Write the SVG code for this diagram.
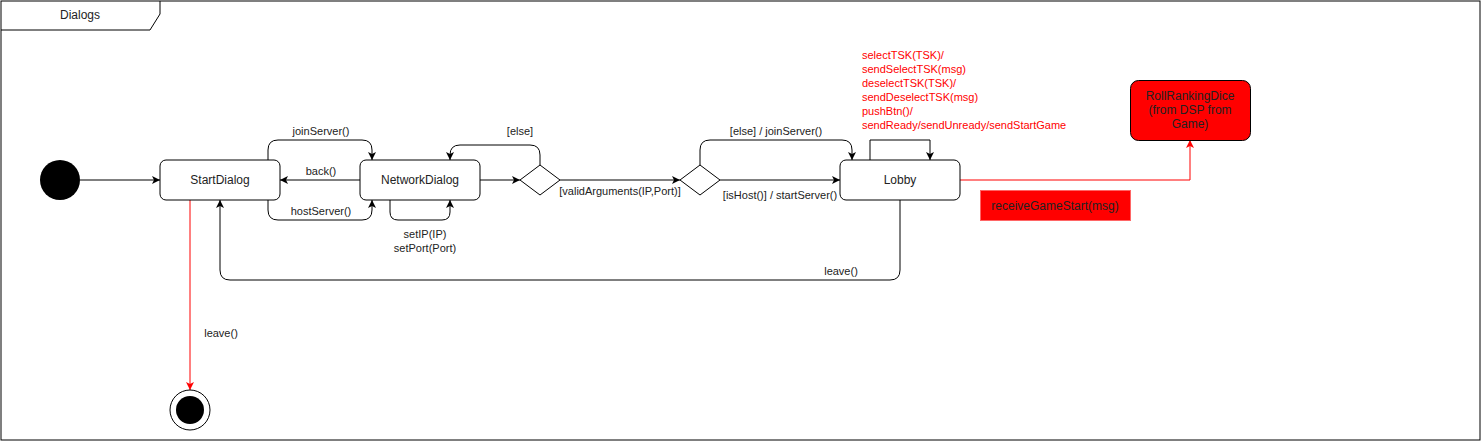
<svg xmlns="http://www.w3.org/2000/svg" width="1481" height="441" viewBox="0 0 1481 441">
<style>
text{font-family:"Liberation Sans",Arial,sans-serif;}
.lbl{font-size:11px;fill:#222;}
.red{font-size:11px;fill:#FF0000;}
.nt{font-size:12px;fill:#222;text-anchor:middle;}
.node{fill:#fff;stroke:#000;stroke-width:1;}
.e{fill:none;stroke:#000;stroke-width:1;marker-end:url(#arr);}
.er{fill:none;stroke:#FF0000;stroke-width:1;marker-end:url(#arrR);}
</style>
<defs>
<marker id="arr" markerUnits="userSpaceOnUse" markerWidth="10" markerHeight="10" refX="8" refY="4" orient="auto">
<path d="M0,0 L8,4 L0,8 L2,4 z" fill="#000"/>
</marker>
<marker id="arrR" markerUnits="userSpaceOnUse" markerWidth="10" markerHeight="10" refX="8" refY="4" orient="auto">
<path d="M0,0 L8,4 L0,8 L2,4 z" fill="#FF0000"/>
</marker>
</defs>
<rect x="0" y="0" width="1481" height="441" fill="#fff"/>
<g id="frame">
<rect x="1" y="1" width="1479" height="439" fill="none" stroke="#000"/>
<path d="M1,30 L150,30 L160,14 L160,1" fill="none" stroke="#000"/>
<text x="80" y="19" class="nt">Dialogs</text>
</g>
<g id="connectors">
<path class="e" d="M80,180 L160,180"/>
<path class="e" d="M268,160 L268,150 Q268,140 278,140 L362,140 Q372,140 372,150 L372,160"/>
<path class="e" d="M360,180 L280,180"/>
<path class="e" d="M268,200 L268,210 Q268,220 278,220 L362,220 Q372,220 372,210 L372,200"/>
<path class="e" d="M390,200 L390,212 Q390,220 398,220 L442,220 Q450,220 450,212 L450,200"/>
<path class="e" d="M480,180 L520,180"/>
<path class="e" d="M540,165 L540,155 Q540,145 530,145 L460,145 Q450,145 450,155 L450,160"/>
<path class="e" d="M560,180 L680,180"/>
<path class="e" d="M700,165 L700,150 Q700,140 710,140 L842,140 Q852,140 852,150 L852,160"/>
<path class="e" d="M720,180 L840,180"/>
<path class="e" d="M870,160 L870,140 L930,140 L930,160"/>
<path class="e" d="M900,200 L900,270 Q900,280 890,280 L230,280 Q220,280 220,270 L220,200"/>
<path class="er" d="M190,200 L190,390"/>
<path class="er" d="M960,180 L1190,180 L1190,140"/>
<text class="lbl" x="321" y="135" text-anchor="middle">joinServer()</text>
<text class="lbl" x="321" y="175" text-anchor="middle">back()</text>
<text class="lbl" x="321" y="215" text-anchor="middle">hostServer()</text>
<text class="lbl" x="425" y="238" text-anchor="middle">setIP(IP)</text>
<text class="lbl" x="425" y="252" text-anchor="middle">setPort(Port)</text>
<text class="lbl" x="520" y="135" text-anchor="middle">[else]</text>
<text class="lbl" x="620" y="195" text-anchor="middle">[validArguments(IP,Port)]</text>
<text class="lbl" x="776" y="135" text-anchor="middle">[else] / joinServer()</text>
<text class="lbl" x="780" y="199" text-anchor="middle">[isHost()] / startServer()</text>
<text class="lbl" x="841" y="275" text-anchor="middle">leave()</text>
<text class="lbl" x="221" y="337" text-anchor="middle">leave()</text>
<text class="red" x="862" y="59">selectTSK(TSK)/</text>
<text class="red" x="862" y="73">sendSelectTSK(msg)</text>
<text class="red" x="862" y="87">deselectTSK(TSK)/</text>
<text class="red" x="862" y="101">sendDeselectTSK(msg)</text>
<text class="red" x="862" y="115">pushBtn()/</text>
<text class="red" x="862" y="129">sendReady/sendUnready/sendStartGame</text>
</g>
<g id="initial">
<circle cx="60" cy="180" r="20" fill="#000"/>
</g>
<g id="StartDialog">
<rect class="node" x="160" y="160" width="120" height="40" rx="6"/>
<text class="nt" x="220" y="184">StartDialog</text>
</g>
<g id="NetworkDialog">
<rect class="node" x="360" y="160" width="120" height="40" rx="6"/>
<text class="nt" x="420" y="184">NetworkDialog</text>
</g>
<g id="decision1">
<path class="node" d="M540,165 L560,180 L540,195 L520,180 Z"/>
</g>
<g id="decision2">
<path class="node" d="M700,165 L720,180 L700,195 L680,180 Z"/>
</g>
<g id="Lobby">
<rect class="node" x="840" y="160" width="120" height="40" rx="6"/>
<text class="nt" x="900" y="184">Lobby</text>
</g>
<g id="RollRankingDice">
<rect x="1130.5" y="80.5" width="120" height="60" rx="8" fill="#FF0000" stroke="#000"/>
<text class="nt" x="1190" y="100">RollRankingDice</text>
<text class="nt" x="1190" y="114">(from DSP from</text>
<text class="nt" x="1190" y="128">Game)</text>
</g>
<g id="receiveGameStart">
<rect x="980.5" y="190.5" width="150" height="30" fill="#FF0000" stroke="#FF6666"/>
<text class="nt" x="1055" y="210">receiveGameStart(msg)</text>
</g>
<g id="final">
<circle cx="190" cy="410" r="20" fill="#fff" stroke="#000"/>
<circle cx="190" cy="410" r="14" fill="#000"/>
</g>
</svg>
